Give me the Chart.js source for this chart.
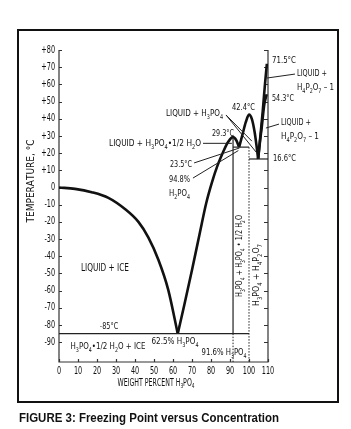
<!DOCTYPE html>
<html>
<head>
<meta charset="utf-8">
<script src="https://cdn.jsdelivr.net/npm/chart.js@4/dist/chart.umd.min.js"></script>
<style>
  html, body { margin: 0; padding: 0; background: #fff; }
  #wrap { width: 351px; height: 429px; }
</style>
</head>
<body>
<div id="wrap"><canvas id="chart" width="351" height="429"></canvas></div>
<script>
// freezing point curves (weight % H3PO4, deg C)
const iceWt = [0, 8.4, 17.2, 26, 34.7, 41.8, 47, 52.3, 57.5, 62.5];
const iceTemp = [0, -0.8, -2.7, -6, -12.5, -20, -29, -42, -59.5, -85];
const hemiWt = [62.5, 66, 70, 74, 77.5, 80.5, 83.5, 86.5, 89, 91.6, 93.3, 94.8];
const hemiTemp = [-85, -68, -48, -27, -9, 3, 13, 21, 26.5, 29.3, 27.5, 23.5];
const acidWt = [94.8, 96.5, 98.3, 100, 101.6, 103, 104, 104.8];
const acidTemp = [23.5, 30.5, 38, 42.4, 39.5, 32, 24, 16.6];
const pyroWt = [104.8, 106, 107.2, 108.4, 109.4];
const pyroTemp = [16.6, 30, 44, 60, 72];
const metaWt = [104.8, 105.8, 106.7, 108, 109.3];
const metaTemp = [16.6, 27, 35, 48, 54.3];

// eutectic / compound lines [wt, temp] pairs
const phaseLines = [
  [[0, -85], [100, -85]],
  [[91.6, 29.3], [91.6, -85]],
  [[91.6, 23.5], [100, 23.5]],
  [[100, 16.6], [110, 16.6]]
];
const dottedLines = [
  [[91.6, -85], [91.6, -101.5]],
  [[100, 23.5], [100, -101.5]]
];
// label pointer lines
const leaders = [
  [[75.8, 25.7], [91, 25.7]],
  [[71.1, 14.3], [95, 23]],
  [[70.5, 5.5], [94.4, 21.5]],
  [[87.9, 42.2], [101.5, 27]],
  [[87.9, 42.2], [104.2, 20]],
  [[124.2, 66], [109.5, 63.7]],
  [[115.8, 36.9], [108.9, 34.6]]
];

const xTicks = [0, 10, 20, 30, 40, 50, 60, 70, 80, 90, 100, 110];
const yTicks = [80, 70, 60, 50, 40, 30, 20, 10, 0, -10, -20, -30, -40, -50, -60, -70, -80, -90];

const FAM = '"DejaVu Sans Condensed", "DejaVu Sans", sans-serif';

function pts(xs, ys) { return xs.map((x, i) => ({x: x, y: ys[i]})); }

function curve(xs, ys) {
  return { data: pts(xs, ys), showLine: true, borderColor: '#111', borderWidth: 2.6,
           pointRadius: 0, cubicInterpolationMode: 'monotone', fill: false };
}
function seg(p, w, dash, clip) {
  return { data: p.map(q => ({x: q[0], y: q[1]})), showLine: true, borderColor: '#222',
           borderWidth: w, borderDash: dash || [], pointRadius: 0, tension: 0,
           clip: clip ? false : undefined };
}

// text with "_" marking a subscript character
function rich(ctx, str, x, y, o) {
  o = o || {};
  const size = o.size || 9.5;
  const weight = o.bold ? 'bold ' : '';
  const fam = o.family || FAM;
  const parts = [];
  for (let i = 0; i < str.length; i++) {
    if (str[i] === '_') { parts.push({t: str[i + 1], sub: true}); i++; }
    else parts.push({t: str[i], sub: false});
  }
  let w = 0;
  parts.forEach(p => {
    ctx.font = weight + (p.sub ? size * 0.68 : size) + 'px ' + fam;
    p.w = ctx.measureText(p.t).width;
    w += p.w;
  });
  const sx = o.width ? o.width / w : (o.sx || 0.8);
  ctx.save();
  ctx.translate(x, y);
  if (o.rot) ctx.rotate(o.rot);
  ctx.scale(sx, 1);
  ctx.fillStyle = o.color || '#111';
  ctx.textBaseline = 'middle';
  ctx.textAlign = 'left';
  let cx = o.align === 'right' ? -w : o.align === 'center' ? -w / 2 : 0;
  parts.forEach(p => {
    ctx.font = weight + (p.sub ? size * 0.68 : size) + 'px ' + fam;
    ctx.fillText(p.t, cx, p.sub ? size * 0.3 : 0);
    cx += p.w;
  });
  ctx.restore();
}

const deco = {
  id: 'deco',
  beforeDatasetsDraw(chart) {
    const ctx = chart.ctx, xs = chart.scales.x, ys = chart.scales.y;
    const a = chart.chartArea;
    ctx.save();
    ctx.strokeStyle = '#111';
    ctx.lineWidth = 2;
    ctx.strokeRect(18, 30, 320, 372);
    // axes
    ctx.lineWidth = 1.2;
    ctx.strokeStyle = '#333';
    ctx.beginPath();
    ctx.moveTo(a.left, a.top); ctx.lineTo(a.left, a.bottom); ctx.lineTo(a.right, a.bottom);
    ctx.lineTo(a.right, a.top);
    ctx.stroke();
    ctx.beginPath();
    yTicks.forEach(v => {
      const y = Math.round(ys.getPixelForValue(v)) + 0.5;
      ctx.moveTo(a.left, y); ctx.lineTo(a.left + 3, y);
      ctx.moveTo(a.right, y); ctx.lineTo(a.right - 4, y);
    });
    xTicks.forEach(v => {
      const x = Math.round(xs.getPixelForValue(v)) + 0.5;
      ctx.moveTo(x, a.bottom); ctx.lineTo(x, a.bottom - 3);
    });
    ctx.stroke();
    ctx.restore();
    yTicks.forEach(v => {
      rich(ctx, (v > 0 ? '+' : '') + v, a.left - 4, ys.getPixelForValue(v), {size: 10, align: 'right', sx: 0.72});
    });
    xTicks.forEach(v => {
      rich(ctx, String(v), xs.getPixelForValue(v), a.bottom + 9, {size: 10, align: 'center', sx: 0.72});
    });
  },
  afterDatasetsDraw(chart) {
    const ctx = chart.ctx;
    const up = -Math.PI / 2;
    rich(ctx, 'TEMPERATURE, °C', 31, 181, {size: 10, align: 'center', rot: up, width: 83});
    rich(ctx, 'WEIGHT PERCENT H_3PO_4', 156, 383, {size: 10, align: 'center', width: 77});
    rich(ctx, 'FIGURE 3: Freezing Point versus Concentration', 19, 419,
         {size: 12, bold: true, width: 260, family: '"Liberation Sans", Arial, sans-serif'});

    rich(ctx, 'LIQUID + ICE', 105, 268, {align: 'center', size: 10, width: 48});
    rich(ctx, '-85°C', 109, 327, {align: 'center', size: 9});
    rich(ctx, 'H_3PO_4•1/2 H_2O + ICE', 108, 347, {align: 'center', width: 75});
    rich(ctx, '62.5% H_3PO_4', 175, 342, {align: 'center', width: 47});
    rich(ctx, '91.6% H_3PO_4', 224, 353, {align: 'center', width: 45});
    rich(ctx, 'LIQUID + H_3PO_4•1/2 H_2O', 109, 144, {width: 92});
    rich(ctx, 'LIQUID + H_3PO_4', 166, 114, {width: 57});
    rich(ctx, '29.3°C', 212, 134, {width: 22});
    rich(ctx, '42.4°C', 232, 108, {width: 23});
    rich(ctx, '23.5°C', 192, 165, {align: 'right', width: 22});
    rich(ctx, '94.8%', 169, 180, {width: 21});
    rich(ctx, 'H_2PO_4', 169, 194, {width: 21});
    rich(ctx, '71.5°C', 272, 61, {width: 24});
    rich(ctx, 'LIQUID +', 297, 74, {width: 30});
    rich(ctx, 'H_4P_2O_7 – 1', 297, 88, {width: 37});
    rich(ctx, '54.3°C', 272, 99, {width: 22});
    rich(ctx, 'LIQUID +', 281, 123, {width: 30});
    rich(ctx, 'H_4P_2O_7 – 1', 281, 137, {width: 38});
    rich(ctx, '16.6°C', 273, 159, {width: 23});
    rich(ctx, 'H_3PO_4 + H_3PO_4 • 1/2 H_2O', 240, 256, {align: 'center', rot: up, width: 82});
    rich(ctx, 'H_3PO_4 + H_4P_2O_7', 257, 275, {align: 'center', rot: up, width: 62});
  }
};

const datasets = [];
phaseLines.forEach(p => datasets.push(seg(p, 1.2)));
dottedLines.forEach(p => datasets.push(seg(p, 1, [1.5, 1.5])));
leaders.forEach(p => datasets.push(seg(p, 1, null, true)));
datasets.push(curve(iceWt, iceTemp));
datasets.push(curve(hemiWt, hemiTemp));
datasets.push(curve(acidWt, acidTemp));
datasets.push(curve(pyroWt, pyroTemp));
datasets.push(curve(metaWt, metaTemp));

new Chart(document.getElementById('chart').getContext('2d'), {
  type: 'scatter',
  data: { datasets: datasets },
  options: {
    responsive: false,
    animation: false,
    layout: { padding: { left: 59, right: 83, top: 50, bottom: 67 } },
    plugins: { legend: { display: false }, tooltip: { enabled: false } },
    scales: {
      x: { type: 'linear', min: 0, max: 110, display: false },
      y: { type: 'linear', min: -101.5, max: 80, display: false }
    }
  },
  plugins: [deco]
});
</script>
</body>
</html>
